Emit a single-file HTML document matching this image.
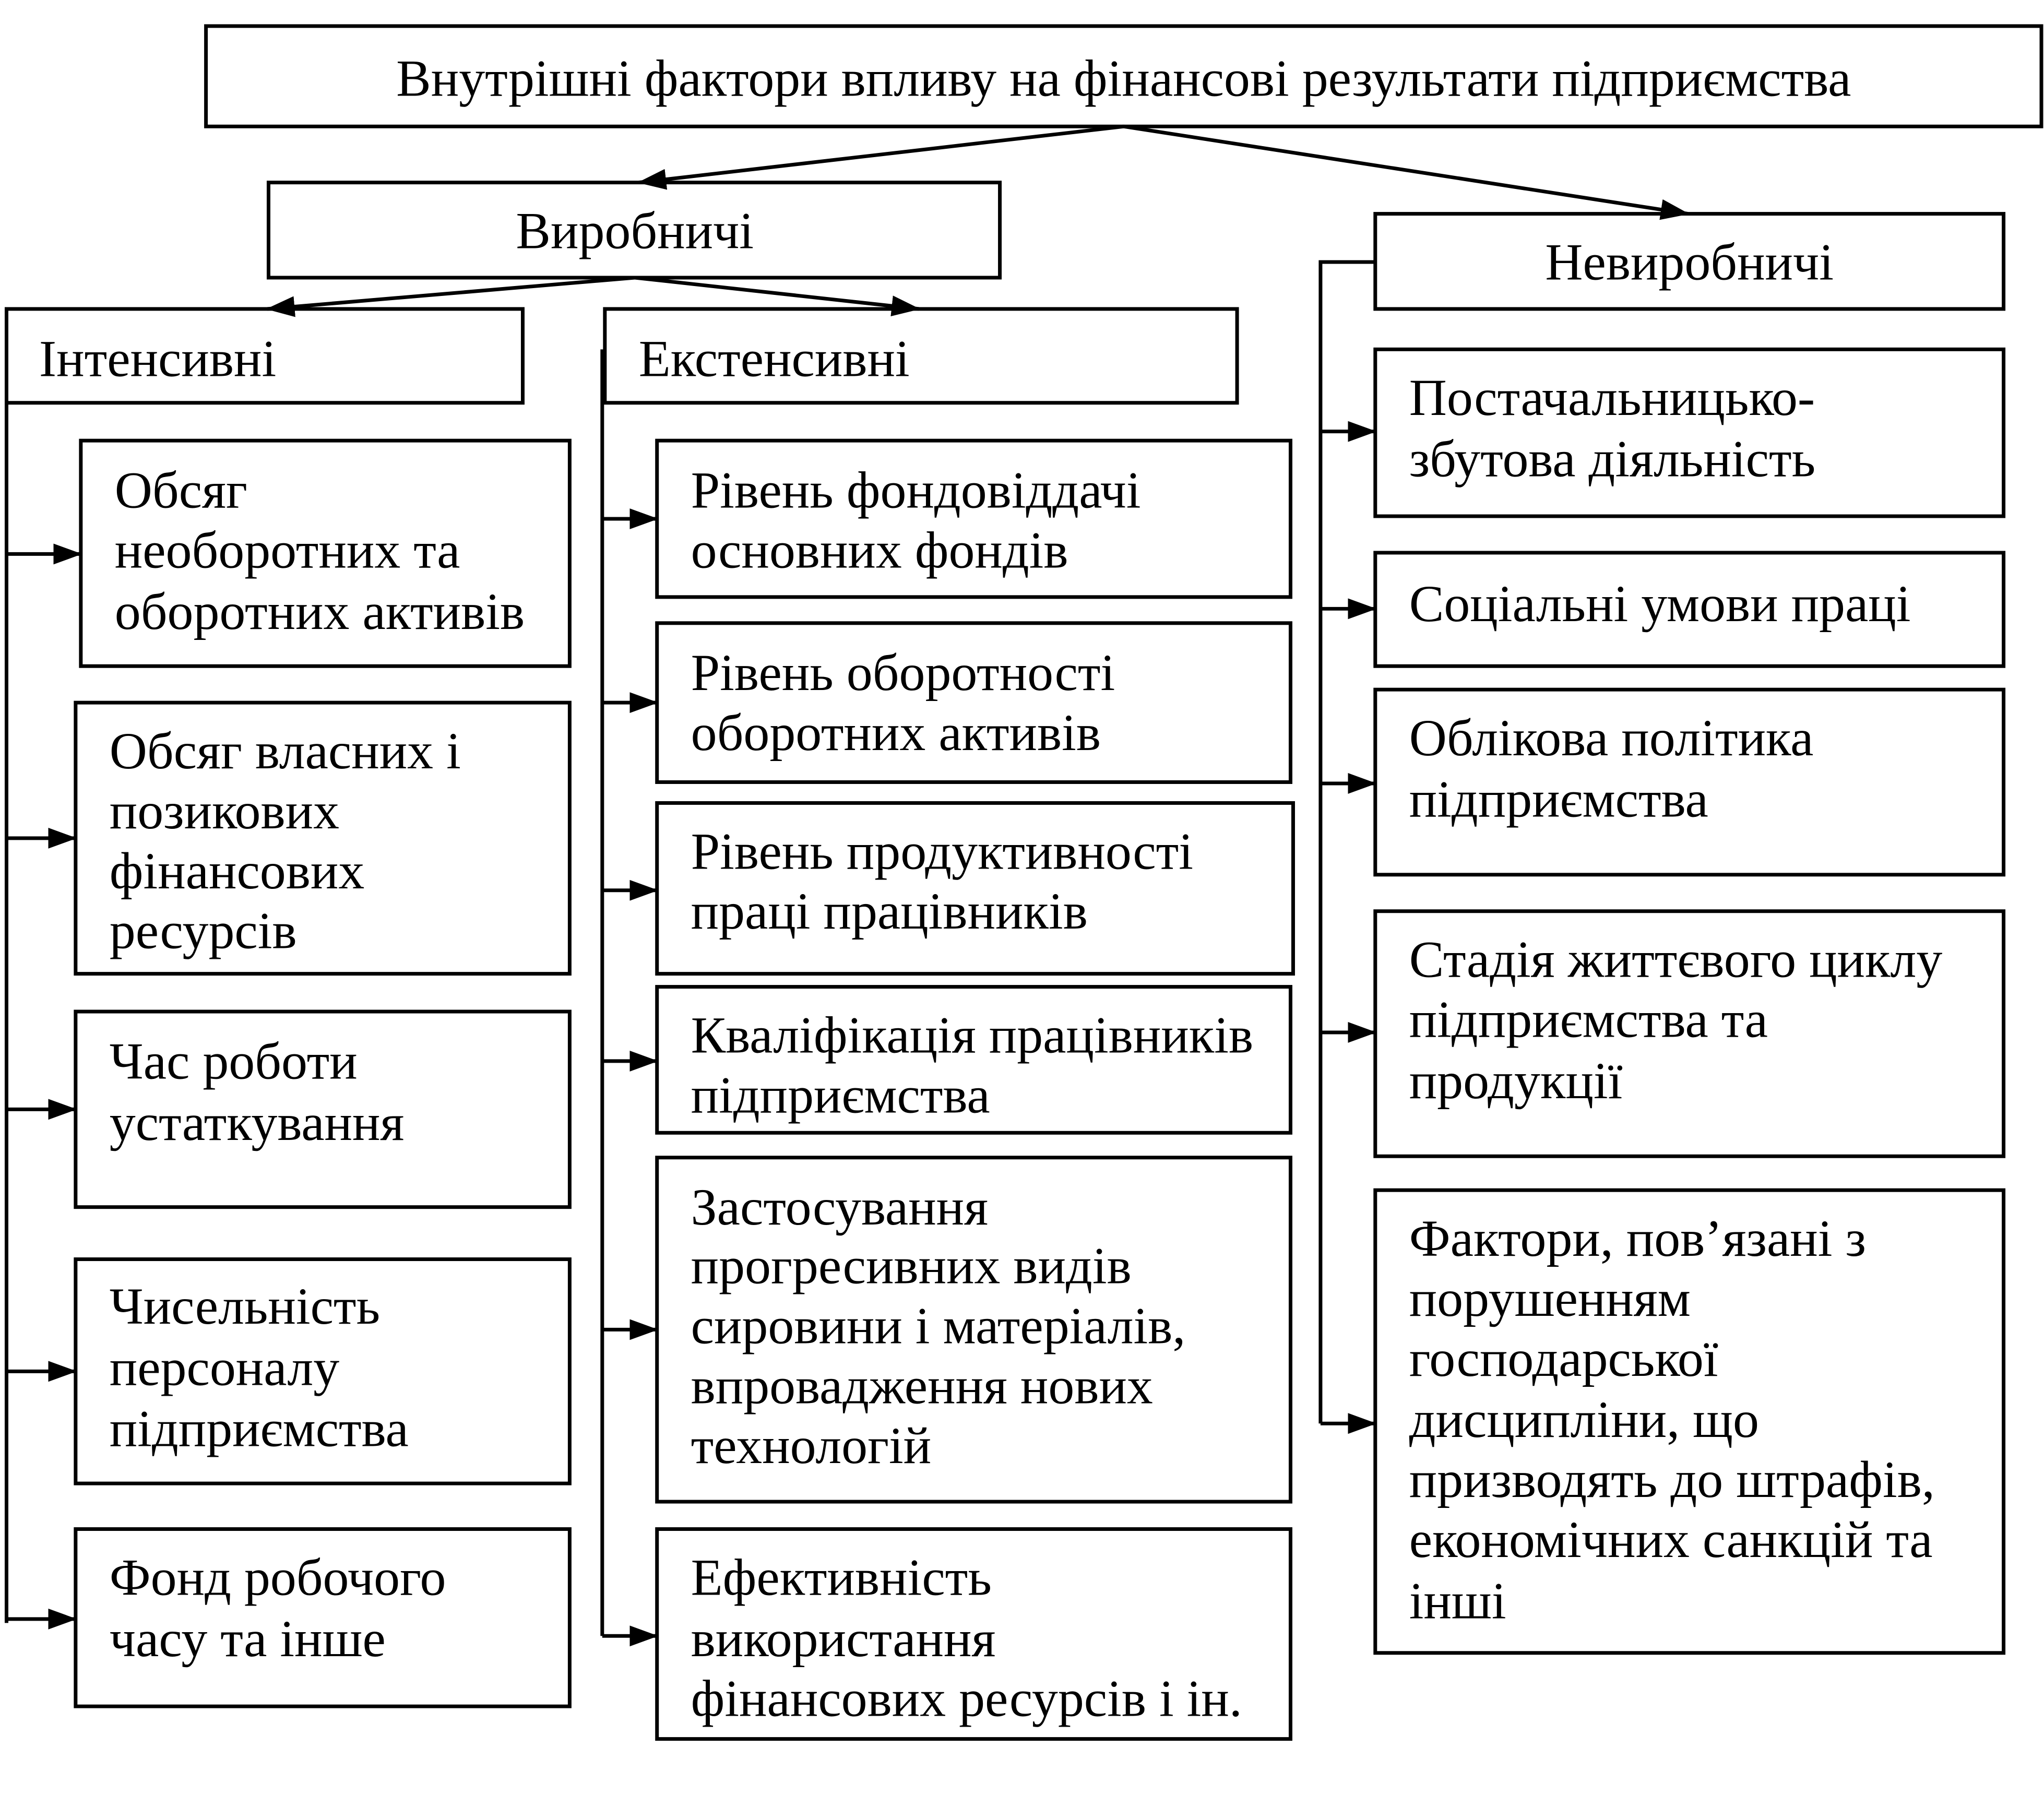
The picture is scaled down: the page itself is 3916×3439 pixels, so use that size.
<!DOCTYPE html>
<html><head><meta charset="utf-8"><style>html,body{margin:0;padding:0;background:#fff}svg{display:block}</style></head>
<body>
<svg xmlns="http://www.w3.org/2000/svg" width="3916" height="3439" viewBox="0 0 1568 1377">
<defs>
<marker id="b" markerWidth="22" markerHeight="16" refX="21" refY="8" orient="auto" markerUnits="userSpaceOnUse"><path d="M0,0 L22,8 L0,16 z" fill="#000"/></marker></defs>
<g fill="none" stroke="#000" stroke-width="2.8">
<rect x="158" y="20" width="1408" height="77"/>
<rect x="206" y="140" width="561" height="73"/>
<rect x="1055" y="164" width="482" height="73"/>
<rect x="5" y="237" width="396" height="72"/>
<rect x="464" y="237" width="485" height="72"/>
<rect x="62" y="338" width="375" height="173"/>
<rect x="58" y="539" width="379" height="208"/>
<rect x="58" y="776" width="379" height="150"/>
<rect x="58" y="966" width="379" height="172"/>
<rect x="58" y="1173" width="379" height="136"/>
<rect x="504" y="338" width="486" height="120"/>
<rect x="504" y="478" width="486" height="122"/>
<rect x="504" y="616" width="488" height="131"/>
<rect x="504" y="757" width="486" height="112"/>
<rect x="504" y="888" width="486" height="264"/>
<rect x="504" y="1173" width="486" height="161"/>
<rect x="1055" y="268" width="482" height="128"/>
<rect x="1055" y="424" width="482" height="87"/>
<rect x="1055" y="529" width="482" height="142"/>
<rect x="1055" y="699" width="482" height="188"/>
<rect x="1055" y="913" width="482" height="355"/>
<path d="M5 309 V1245 M462 268 V1255 M1055 201 H1013 V1092"/>
</g>
<g stroke="#000" stroke-width="2.8" marker-end="url(#b)">
<line x1="862" y1="97" x2="490" y2="140"/>
<line x1="862" y1="97" x2="1295" y2="164"/>
<line x1="487" y1="213" x2="205" y2="237"/>
<line x1="487" y1="213" x2="705" y2="237"/>
<line x1="5" y1="425" x2="62" y2="425"/>
<line x1="5" y1="643" x2="58" y2="643"/>
<line x1="5" y1="851" x2="58" y2="851"/>
<line x1="5" y1="1052" x2="58" y2="1052"/>
<line x1="5" y1="1242" x2="58" y2="1242"/>
<line x1="462" y1="398" x2="504" y2="398"/>
<line x1="462" y1="539" x2="504" y2="539"/>
<line x1="462" y1="683" x2="504" y2="683"/>
<line x1="462" y1="814" x2="504" y2="814"/>
<line x1="462" y1="1020" x2="504" y2="1020"/>
<line x1="462" y1="1255" x2="504" y2="1255"/>
<line x1="1013" y1="331" x2="1055" y2="331"/>
<line x1="1013" y1="467" x2="1055" y2="467"/>
<line x1="1013" y1="601" x2="1055" y2="601"/>
<line x1="1013" y1="792" x2="1055" y2="792"/>
<line x1="1013" y1="1092" x2="1055" y2="1092"/>
</g>
<g font-family="'Liberation Serif','DejaVu Serif',serif" font-size="40" fill="#000" dominant-baseline="central">
<text x="862" y="60" text-anchor="middle">Внутрішні фактори впливу на фінансові результати підприємства</text>
<text x="487" y="177" text-anchor="middle">Виробничі</text>
<text x="1296" y="201" text-anchor="middle">Невиробничі</text>
<text x="30" y="275">Інтенсивні</text>
<text x="490" y="275">Екстенсивні</text>
<text x="88" y="376">Обсяг</text><text x="88" y="422">необоротних та</text><text x="88" y="469">оборотних активів</text>
<text x="84" y="576">Обсяг власних і</text><text x="84" y="622">позикових</text><text x="84" y="668">фінансових</text><text x="84" y="714">ресурсів</text>
<text x="84" y="814">Час роботи</text><text x="84" y="861">устаткування</text>
<text x="84" y="1002">Чисельність</text><text x="84" y="1049">персоналу</text><text x="84" y="1096">підприємства</text>
<text x="84" y="1210">Фонд робочого</text><text x="84" y="1257">часу та інше</text>
<text x="530" y="376">Рівень фондовіддачі</text><text x="530" y="422">основних фондів</text>
<text x="530" y="516">Рівень оборотності</text><text x="530" y="562">оборотних активів</text>
<text x="530" y="653">Рівень продуктивності</text><text x="530" y="699">праці працівників</text>
<text x="530" y="794">Кваліфікація працівників</text><text x="530" y="840">підприємства</text>
<text x="530" y="926">Застосування</text><text x="530" y="971">прогресивних видів</text><text x="530" y="1017">сировини і матеріалів,</text><text x="530" y="1063">впровадження нових</text><text x="530" y="1109">технологій</text>
<text x="530" y="1210">Ефективність</text><text x="530" y="1257">використання</text><text x="530" y="1303">фінансових ресурсів і ін.</text>
<text x="1081" y="305">Постачальницько-</text><text x="1081" y="352">збутова діяльність</text>
<text x="1081" y="463">Соціальні умови праці</text>
<text x="1081" y="566">Облікова політика</text><text x="1081" y="613">підприємства</text>
<text x="1081" y="736">Стадія життєвого циклу</text><text x="1081" y="782">підприємства та</text><text x="1081" y="829">продукції</text>
<text x="1081" y="950">Фактори, пов’язані з</text><text x="1081" y="996">порушенням</text><text x="1081" y="1042">господарської</text><text x="1081" y="1089">дисципліни, що</text><text x="1081" y="1135">призводять до штрафів,</text><text x="1081" y="1181">економічних санкцій та</text><text x="1081" y="1228">інші</text>
</g>
</svg>
</body></html>
